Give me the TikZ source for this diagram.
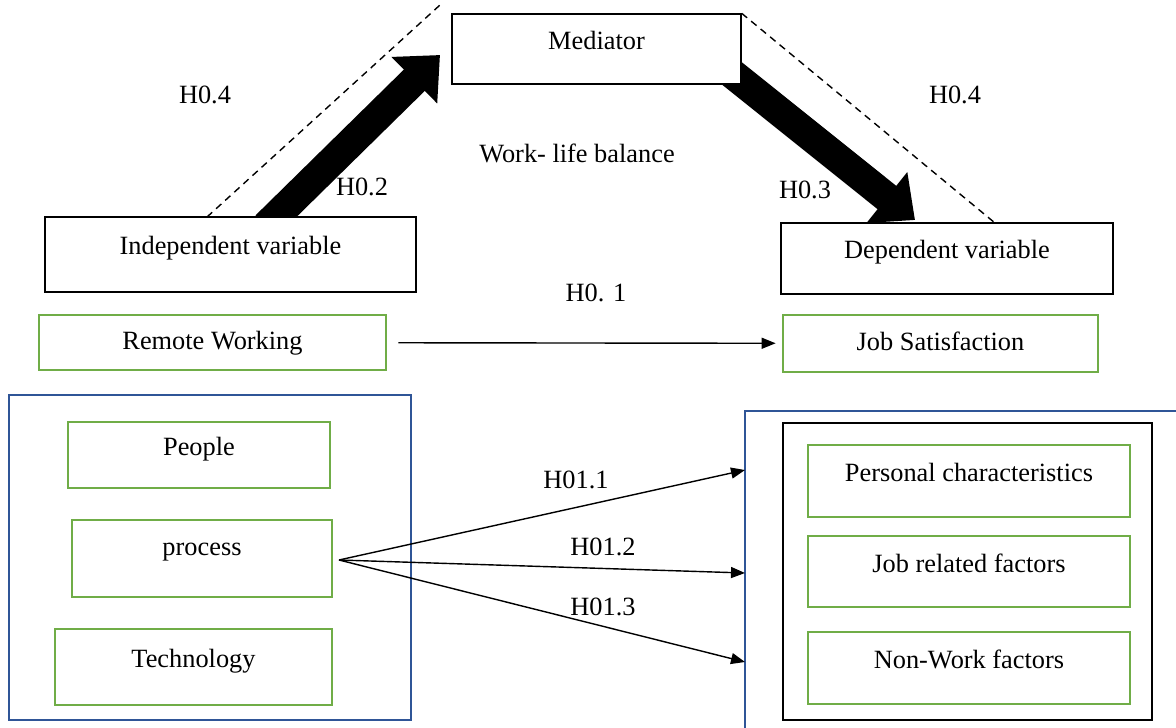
\documentclass[tikz,border=0pt]{standalone}
\usepackage{fontspec}
\setmainfont{Liberation Serif}
\usetikzlibrary{
    arrows.meta,
    calc
}
\definecolor{frameblue}{RGB}{47,85,151}
\definecolor{boxgreen}{RGB}{112,173,71}
\tikzset{
  every node/.style={
    font=\fontsize{15}{18}\selectfont,
    inner sep=1.5pt
  },
  varbox/.style={
    draw=black,
    fill=white,
    line width=0.8pt,
    text depth=10pt
  },
  greenbox/.style={
    draw=boxgreen,
    fill=white,
    line width=1.6pt,
    text depth=10pt
  },
  bigarrow/.style={
    line width=17pt,
    -{Triangle[length=0.72cm,width=1.26cm]}
  },
  thinarrow/.style={
    line width=0.8pt,
    -{Triangle[length=0.28cm,width=0.22cm]}
  },
  guide/.style={
    line width=0.8pt,
    dash pattern=on 4pt off 3pt
  }
}

\begin{document}
\begin{tikzpicture}[x=0.02cm,y=-0.02cm]
    \useasboundingbox (0,0) rectangle (1176,727);

    % 太い矢印
    \coordinate (I1) at (266,226);
    \coordinate (I2) at (440,55);
    \coordinate (M1) at (707,53.5);
    \coordinate (M2) at (915,220);
    \draw[bigarrow] (I1) -- (I2);
    \draw[bigarrow] (M1) -- (M2);

    % 上の箱
    \node[varbox,minimum width=5.78cm,minimum height=1.4cm] (med) at (596.5,49) {Mediator};
    \node[varbox,minimum width=7.42cm,minimum height=1.5cm] (indep) at (230.5,254.5) {Independent variable};
    \node[varbox,minimum width=6.64cm,minimum height=1.42cm] (dep) at (947,258.5) {Dependent variable};

    % 点線
    \coordinate (L1) at (207,217);
    \coordinate (L2) at (440,5);
    \coordinate (R2) at (995,223);
    \draw[guide] (L1) -- (L2);
    \draw[guide] (med.north east) -- (R2);

    % ラベル
    \node (h4a) at (205,95) {H0.4};
    \node (h4b) at (955,95) {H0.4};
    \node (wlb) at (577,153) {Work- life balance};
    \node (h2) at (362,187) {H0.2};
    \node (h3) at (805,190) {H0.3};
    \node (h1) at (596,293) {H0. 1};

    % 中段
    \node[greenbox,text depth=3pt,minimum width=6.94cm,minimum height=1.1cm] (remote) at (212.5,342.5) {Remote Working};
    \node[greenbox,text depth=3pt,minimum width=6.3cm,minimum height=1.14cm] (jobsat) at (940.5,343.5) {Job Satisfaction};
    \draw[thinarrow,shorten <=0.22cm,shorten >=0.12cm] (remote) -- (jobsat);

    % 左の枠
    \draw[frameblue,line width=1.6pt] (9,395) rectangle (411,720);
    \node[greenbox,minimum width=5.24cm,minimum height=1.32cm] (people) at (199,455) {People};
    \node[greenbox,minimum width=5.2cm,minimum height=1.54cm] (proc) at (202,558.5) {process};
    \node[greenbox,minimum width=5.54cm,minimum height=1.52cm] (tech) at (193.5,667) {Technology};

    % 右の枠
    \draw[frameblue,line width=1.6pt] (1180,411) -- (745,411) -- (745,730);
    \draw[line width=0.8pt] (783,423) rectangle (1152,720);
    \node[greenbox,minimum width=6.44cm,minimum height=1.44cm] (pers) at (969,481) {Personal characteristics};
    \node[greenbox,minimum width=6.44cm,minimum height=1.42cm] (jobrel) at (969,571.5) {Job related factors};
    \node[greenbox,minimum width=6.44cm,minimum height=1.44cm] (nonwork) at (969,668) {Non-Work factors};

    % 細い矢印
    \coordinate (P0) at (339,560);
    \coordinate (E1) at (745,470);
    \coordinate (E2) at (745,573);
    \coordinate (E3) at (745,662);
    \draw[thinarrow] (P0) -- (E1);
    \draw[thinarrow] (P0) -- (E2);
    \draw[thinarrow] (P0) -- (E3);
    \node (h11) at (576,480) {H01.1};
    \node (h12) at (603,547) {H01.2};
    \node (h13) at (603,607) {H01.3};
\end{tikzpicture}
\end{document}
